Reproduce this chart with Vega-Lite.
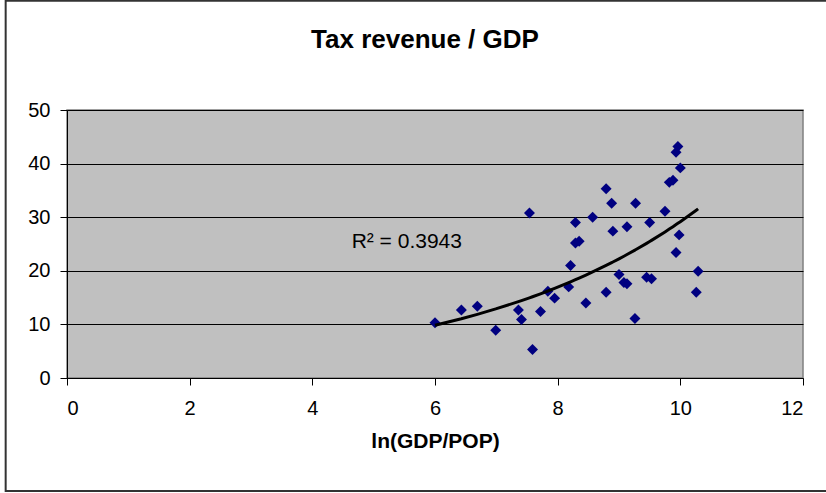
{
  "$schema": "https://vega.github.io/schema/vega-lite/v6.json",
  "width": 736,
  "height": 268,
  "autosize": {"type": "none"},
  "padding": {"left": 67, "top": 110, "right": 23, "bottom": 115},
  "background": "white",
  "title": {
    "text": "Tax revenue / GDP",
    "font": "Liberation Sans",
    "fontSize": 26,
    "fontWeight": "bold",
    "color": "black",
    "anchor": "middle",
    "frame": "group",
    "baseline": "alphabetic",
    "offset": -74,
    "dx": -10
  },
  "config": {
    "view": {"fill": "#C0C0C0", "stroke": "#808080", "strokeWidth": 1.5},
    "font": "Liberation Sans",
    "axis": {
      "labelFont": "Liberation Sans",
      "labelFontSize": 20,
      "labelColor": "black",
      "domainColor": "black",
      "tickColor": "black",
      "tickSize": 7,
      "titleFont": "Liberation Sans",
      "titleColor": "black"
    }
  },
  "datasets": {
    "pts": [
      {"x": 6.00, "y": 10.3},
      {"x": 6.43, "y": 12.7},
      {"x": 6.69, "y": 13.4},
      {"x": 6.99, "y": 8.9},
      {"x": 7.36, "y": 12.7},
      {"x": 7.41, "y": 10.9},
      {"x": 7.54, "y": 30.8},
      {"x": 7.59, "y": 5.3},
      {"x": 7.72, "y": 12.4},
      {"x": 7.84, "y": 16.2},
      {"x": 7.95, "y": 14.9},
      {"x": 8.18, "y": 17.0},
      {"x": 8.21, "y": 21.0},
      {"x": 8.29, "y": 29.0},
      {"x": 8.29, "y": 25.2},
      {"x": 8.35, "y": 25.5},
      {"x": 8.46, "y": 14.0},
      {"x": 8.57, "y": 30.0},
      {"x": 8.79, "y": 35.3},
      {"x": 8.79, "y": 16.0},
      {"x": 8.88, "y": 32.6},
      {"x": 8.90, "y": 27.4},
      {"x": 9.00, "y": 19.3},
      {"x": 9.08, "y": 17.8},
      {"x": 9.13, "y": 17.6},
      {"x": 9.13, "y": 28.2},
      {"x": 9.26, "y": 11.1},
      {"x": 9.27, "y": 32.6},
      {"x": 9.45, "y": 18.8},
      {"x": 9.50, "y": 29.0},
      {"x": 9.53, "y": 18.5},
      {"x": 9.75, "y": 31.1},
      {"x": 9.82, "y": 36.5},
      {"x": 9.88, "y": 36.9},
      {"x": 9.93, "y": 42.1},
      {"x": 9.96, "y": 43.2},
      {"x": 9.93, "y": 23.4},
      {"x": 9.98, "y": 26.7},
      {"x": 10.00, "y": 39.2},
      {"x": 10.26, "y": 16.0},
      {"x": 10.29, "y": 19.9}
    ],
    "one": [{"label": "R² = 0.3943"}]
  },
  "data": {"name": "pts"},
  "layer": [
    {
      "data": {"name": "one"},
      "mark": {"type": "rect", "fill": null, "filled": false, "stroke": "#333333", "strokeWidth": 2, "clip": false},
      "encoding": {
        "x": {"datum": -1.0, "type": "quantitative", "scale": {"domain": [0, 12], "nice": false}},
        "x2": {"datum": 13.0},
        "y": {"datum": 70.4, "type": "quantitative", "scale": {"domain": [0, 50], "nice": false}},
        "y2": {"datum": -21.1}
      }
    },
    {
      "mark": {"type": "point", "shape": "diamond", "filled": true, "color": "#000080", "size": 120, "opacity": 1},
      "encoding": {
        "x": {
          "field": "x", "type": "quantitative",
          "scale": {"domain": [0, 12], "nice": false},
          "axis": {
            "values": [0, 2, 4, 6, 8, 10, 12],
            "format": "d",
            "grid": false,
            "labelPadding": 13,
            "title": "ln(GDP/POP)",
            "titleFontSize": 21,
            "titleFontWeight": "bold",
            "titlePadding": 12
          }
        },
        "y": {
          "field": "y", "type": "quantitative",
          "scale": {"domain": [0, 50], "nice": false},
          "axis": {
            "values": [0, 10, 20, 30, 40, 50],
            "format": "d",
            "grid": true,
            "gridColor": "black",
            "gridWidth": 1,
            "labelPadding": 10,
            "title": null
          }
        }
      }
    },
    {
      "transform": [
        {"calculate": "log(datum.y)", "as": "ly"},
        {"calculate": "datum.x * datum.ly", "as": "xly"},
        {"calculate": "datum.x * datum.x", "as": "xx"},
        {"joinaggregate": [
          {"op": "mean", "field": "x", "as": "mx"},
          {"op": "mean", "field": "ly", "as": "mly"},
          {"op": "mean", "field": "xly", "as": "mxly"},
          {"op": "mean", "field": "xx", "as": "mxx"}
        ]},
        {"calculate": "(datum.mxly - datum.mx * datum.mly) / (datum.mxx - datum.mx * datum.mx)", "as": "b"},
        {"calculate": "exp(datum.mly - datum.b * datum.mx + datum.b * datum.x)", "as": "fit"}
      ],
      "mark": {"type": "line", "color": "black", "strokeWidth": 3},
      "encoding": {
        "x": {"field": "x", "type": "quantitative"},
        "y": {"field": "fit", "type": "quantitative"},
        "order": {"field": "x", "type": "quantitative"}
      }
    },
    {
      "data": {"name": "one"},
      "mark": {"type": "text", "fontSize": 21, "font": "Liberation Sans", "color": "black", "align": "center", "baseline": "middle"},
      "encoding": {
        "text": {"field": "label"},
        "x": {"datum": 5.54, "type": "quantitative"},
        "y": {"datum": 25.4, "type": "quantitative"}
      }
    }
  ]
}
